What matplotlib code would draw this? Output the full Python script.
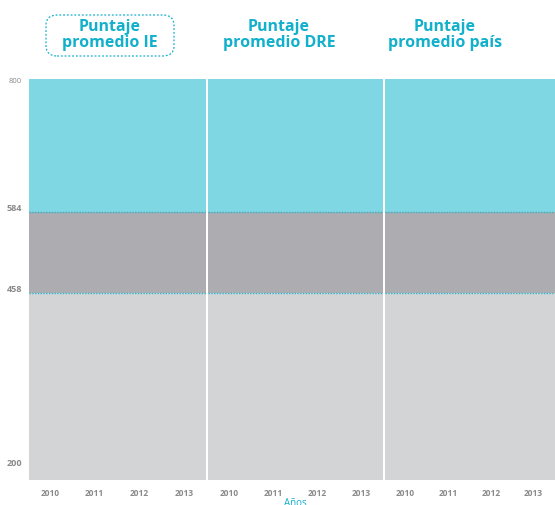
import numpy as np
import matplotlib
matplotlib.use('Agg')
import matplotlib.pyplot as plt
from matplotlib.patches import FancyBboxPatch

plt.rcParams['font.family'] = ['Open Sans', 'DejaVu Sans']

# data
panels = ['Puntaje\npromedio IE', 'Puntaje\npromedio DRE', 'Puntaje\npromedio país']
years = ['2010', '2011', '2012', '2013']
ticks = [200, 458, 584, 800]
ymin = 175
band_colors = ['#d3d4d6', '#adadb1', '#7fd7e3']

CYAN = '#13b0cb'
GREY = '#8a8a8a'

# ticks are placed at band limits, spacing is not linear in the original
vals = [ymin] + ticks
pix = [0, 17.7, 186.4, 268.0, 400.7]
fwd = lambda v: np.interp(v, vals, pix)
inv = lambda v: np.interp(v, pix, vals)

fig = plt.figure(figsize=(5.55, 5.06), dpi=100)
W, H = 555, 506
lefts = [29, 208, 385]
widths = [177, 175, 170]
bottom = (H - 480.7) / H
height = (480.7 - 80) / H

limits = [ymin] + ticks[1:]
for i, name in enumerate(panels):
    ax = fig.add_axes([lefts[i] / W, bottom, widths[i] / W, height])
    ax.set_yscale('function', functions=(fwd, inv))
    ax.set_ylim(ymin, ticks[-1])
    ax.set_xlim(-0.47, 3.5)
    for lo, hi, c in zip(limits[:-1], limits[1:], band_colors):
        ax.axhspan(lo, hi, color=c, lw=0)
    for b in ticks[1:-1]:
        ax.axhline(b, color='#2bb5cc', lw=1.0, ls=(0, (1, 1)))
    ax.set_xticks(range(len(years)))
    ax.set_xticklabels(years, fontsize=6, fontweight='bold', color=GREY)
    ax.tick_params(length=0, pad=6)
    if i == 0:
        ax.set_yticks(ticks)
        ax.set_yticklabels(ticks, fontsize=6.5, fontweight='bold', color=GREY)
        ax.tick_params(axis='y', pad=5)
        lab = ax.get_yticklabels()
        lab[-1].set_fontsize(5.5)
        lab[-1].set_fontweight('normal')
        lab[1].set_va('bottom')
        lab[2].set_va('bottom')
    else:
        ax.set_yticks([])
    for s in ax.spines.values():
        s.set_visible(False)

# titles
tx = [110, 279, 445]
for x, name in zip(tx, panels):
    fig.text(x / W, 1 - 35 / H, name, ha='center', va='center', fontsize=11.5,
             fontweight='bold', color=CYAN, linespacing=0.92)

box = FancyBboxPatch((46 / W, 1 - 57 / H), 128 / W, 41 / H,
                     boxstyle='round,pad=0,rounding_size=0.02',
                     transform=fig.transFigure, fill=False,
                     ec=CYAN, lw=0.9, ls=(0, (1.5, 1.5)))
fig.patches.append(box)

fig.text(295 / W, 1 - 498 / H, 'Años', ha='center', va='top', fontsize=7, color=CYAN)

fig.savefig('out.png', dpi=100)
